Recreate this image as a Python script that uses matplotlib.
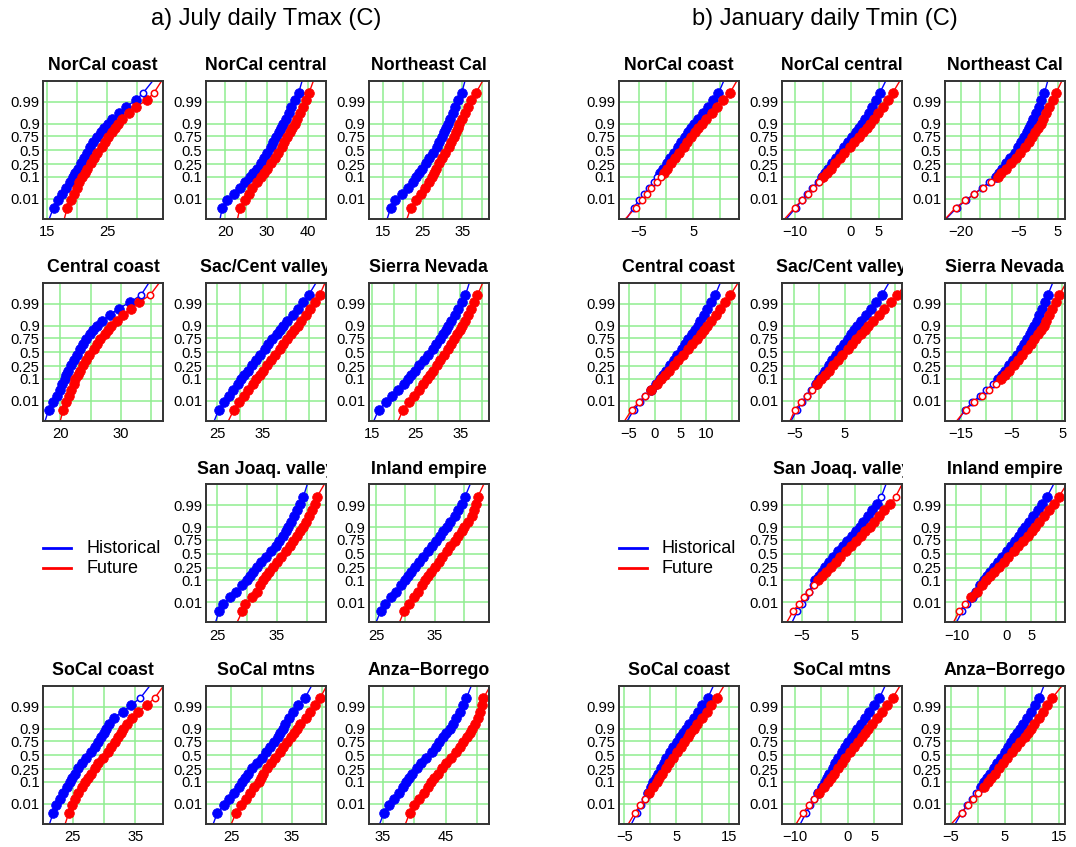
import matplotlib
matplotlib.use("Agg")
import matplotlib.pyplot as plt
import numpy as np
from statistics import NormalDist
from matplotlib.transforms import Bbox, TransformedBbox, offset_copy
from matplotlib.lines import Line2D

plt.rcParams['font.family'] = ['Liberation Sans', 'DejaVu Sans']

# ---------------- data ----------------
PROB_TICKS = [0.01, 0.1, 0.25, 0.5, 0.75, 0.9, 0.99]
PROB_LABELS = ["0.01", "0.1", "0.25", "0.5", "0.75", "0.9", "0.99"]
# probability of each plotted quantile (first / last = line end only)
PROBS = [0.0005, 0.003, 0.008, 0.018, 0.035, 0.065, 0.10, 0.14, 0.19, 0.264, 0.35,
         0.44, 0.56, 0.65, 0.736, 0.81, 0.86, 0.90, 0.935, 0.965, 0.982, 0.992,
         0.997, 0.9995]

# July daily Tmax (C)
JUL_NORCAL_COAST_HIST = [15.4, 16.1, 16.8, 17.5, 18.2, 18.8, 19.3, 19.7, 20.1, 20.6, 21.1, 21.6, 22.2, 22.7, 23.3, 24.0, 24.5, 25.1, 25.9, 27.0, 28.2, 29.8, 31.0, 32.5]
JUL_NORCAL_COAST_FUT = [17.9, 18.4, 19.0, 19.5, 20.0, 20.4, 20.8, 21.3, 21.7, 22.3, 22.8, 23.3, 24.1, 24.6, 25.2, 25.8, 26.3, 26.8, 27.5, 28.6, 29.9, 31.6, 32.8, 34.0]
JUL_NORCAL_CENTRAL_HIST = [18.8, 19.3, 20.5, 22.2, 23.5, 24.8, 25.9, 26.8, 27.6, 28.6, 29.4, 30.2, 31.0, 31.6, 32.3, 33.0, 33.5, 34.0, 34.6, 35.4, 36.0, 36.8, 37.7, 38.5]
JUL_NORCAL_CENTRAL_FUT = [23.0, 23.6, 24.7, 25.7, 26.6, 27.7, 28.6, 29.4, 30.1, 31.1, 32.0, 32.8, 33.7, 34.3, 35.0, 35.7, 36.2, 36.8, 37.4, 38.1, 38.7, 39.4, 40.2, 41.2]
JUL_NORTHEAST_HIST = [16.0, 16.9, 18.0, 19.8, 21.2, 22.5, 23.4, 24.1, 24.8, 25.8, 26.6, 27.6, 28.6, 29.2, 29.8, 30.4, 30.9, 31.3, 31.9, 32.6, 33.2, 34.0, 34.8, 35.6]
JUL_NORTHEAST_FUT = [21.0, 22.0, 23.2, 24.6, 25.6, 26.6, 27.2, 27.8, 28.4, 29.2, 29.9, 30.7, 31.6, 32.2, 32.8, 33.4, 33.8, 34.2, 34.8, 35.6, 36.3, 37.3, 38.4, 40.0]
JUL_CENTRAL_COAST_HIST = [17.5, 18.1, 18.8, 19.4, 19.9, 20.3, 20.7, 21.0, 21.3, 21.8, 22.2, 22.7, 23.3, 23.8, 24.3, 24.9, 25.4, 26.0, 26.9, 28.2, 29.6, 31.5, 33.3, 34.5]
JUL_CENTRAL_COAST_FUT = [20.0, 20.5, 21.0, 21.4, 21.8, 22.2, 22.5, 22.9, 23.3, 23.8, 24.3, 24.8, 25.5, 26.0, 26.6, 27.3, 27.8, 28.4, 29.3, 30.4, 31.6, 33.0, 34.8, 36.2]
JUL_SAC_HIST = [24.4, 25.4, 26.6, 27.6, 28.6, 29.6, 30.3, 31.0, 31.7, 32.6, 33.5, 34.3, 35.4, 36.2, 37.1, 38.0, 38.8, 39.5, 40.4, 41.5, 42.6, 43.8, 45.0, 46.5]
JUL_SAC_FUT = [27.5, 28.7, 29.8, 30.8, 31.8, 32.8, 33.6, 34.3, 35.0, 35.9, 36.8, 37.6, 38.7, 39.4, 40.3, 41.2, 41.9, 42.6, 43.4, 44.4, 45.4, 46.4, 47.4, 48.5]
JUL_SIERRA_HIST = [15.5, 16.6, 18.2, 19.7, 21.0, 22.2, 23.2, 24.0, 24.8, 25.8, 26.8, 27.7, 28.8, 29.5, 30.4, 31.1, 31.7, 32.3, 33.0, 33.8, 34.6, 35.4, 36.2, 37.0]
JUL_SIERRA_FUT = [21.0, 22.1, 23.4, 24.6, 25.6, 26.6, 27.4, 28.1, 28.8, 29.7, 30.5, 31.3, 32.2, 32.9, 33.6, 34.3, 34.9, 35.4, 36.0, 36.8, 37.5, 38.2, 38.9, 40.0]
JUL_SANJOAQ_HIST = [24.7, 25.3, 26.0, 27.1, 28.2, 29.1, 29.9, 30.4, 30.9, 31.6, 32.3, 33.1, 34.0, 34.8, 35.4, 36.0, 36.5, 36.9, 37.4, 37.8, 38.3, 38.8, 39.4, 40.0]
JUL_SANJOAQ_FUT = [28.3, 29.2, 29.7, 30.8, 31.6, 32.2, 32.7, 33.2, 33.7, 34.3, 35.0, 35.7, 36.5, 37.1, 37.7, 38.4, 38.8, 39.3, 39.9, 40.4, 40.9, 41.3, 41.7, 42.8]
JUL_INLAND_HIST = [25.0, 25.8, 26.6, 27.6, 28.4, 29.3, 29.9, 30.5, 31.0, 31.7, 32.4, 33.0, 33.8, 34.5, 35.2, 35.9, 36.5, 37.1, 37.7, 38.4, 39.0, 39.6, 40.2, 41.0]
JUL_INLAND_FUT = [29.0, 29.8, 30.6, 31.4, 32.1, 32.8, 33.4, 33.9, 34.4, 35.0, 35.7, 36.3, 37.1, 37.7, 38.4, 39.0, 39.6, 40.1, 40.7, 41.3, 41.7, 42.1, 42.4, 43.3]
JUL_SOCAL_COAST_HIST = [21.3, 21.9, 22.4, 23.0, 23.5, 24.1, 24.5, 24.9, 25.3, 25.9, 26.5, 27.1, 27.9, 28.5, 29.1, 29.6, 30.0, 30.4, 30.8, 31.6, 33.0, 34.3, 35.8, 37.2]
JUL_SOCAL_COAST_FUT = [23.8, 24.4, 24.9, 25.4, 25.9, 26.5, 27.0, 27.4, 27.9, 28.5, 29.1, 29.8, 30.6, 31.2, 31.7, 32.3, 32.7, 33.1, 33.7, 34.5, 35.5, 36.8, 38.1, 39.4]
JUL_SOCAL_MTNS_HIST = [22.0, 22.7, 23.7, 24.6, 25.5, 26.2, 26.8, 27.3, 27.8, 28.5, 29.2, 30.0, 30.8, 31.4, 32.1, 32.7, 33.1, 33.5, 33.9, 34.5, 35.2, 36.0, 37.2, 38.2]
JUL_SOCAL_MTNS_FUT = [25.0, 25.8, 26.6, 27.4, 28.1, 28.8, 29.5, 29.9, 30.3, 30.9, 31.5, 32.2, 33.0, 33.6, 34.2, 34.9, 35.3, 35.8, 36.4, 37.3, 38.0, 38.8, 39.7, 40.7]
JUL_ANZA_HIST = [34.5, 35.2, 36.0, 36.8, 37.5, 38.2, 38.7, 39.2, 39.7, 40.4, 41.1, 41.9, 42.8, 43.4, 44.0, 44.6, 45.1, 45.6, 46.1, 46.7, 47.3, 47.8, 48.3, 49.0]
JUL_ANZA_FUT = [38.6, 39.3, 40.0, 40.8, 41.5, 42.2, 42.7, 43.2, 43.7, 44.4, 45.1, 45.8, 46.6, 47.2, 47.8, 48.4, 48.8, 49.2, 49.7, 50.1, 50.4, 50.7, 51.0, 52.0]

# January daily Tmin (C)
JAN_NORCAL_COAST_HIST = [-7.3, -6.0, -5.0, -4.1, -3.2, -2.3, -1.6, -1.1, -0.5, 0.1, 0.8, 1.4, 2.2, 2.8, 3.5, 4.1, 4.7, 5.2, 5.9, 6.8, 7.7, 8.7, 9.7, 10.6]
JAN_NORCAL_COAST_FUT = [-7.5, -5.6, -4.5, -3.6, -2.7, -1.7, -1.0, -0.4, 0.2, 1.0, 1.7, 2.4, 3.3, 3.9, 4.7, 5.4, 6.0, 6.6, 7.4, 8.5, 9.5, 10.6, 11.8, 13.0]
JAN_NORCAL_CENTRAL_HIST = [-11.5, -9.8, -8.7, -7.8, -6.9, -5.9, -5.2, -4.6, -4.1, -3.4, -2.7, -2.0, -1.2, -0.5, 0.2, 0.9, 1.4, 2.0, 2.5, 3.2, 3.8, 4.5, 5.2, 6.2]
JAN_NORCAL_CENTRAL_FUT = [-11.8, -10.0, -8.8, -7.7, -6.7, -5.7, -4.9, -4.2, -3.6, -2.8, -1.9, -1.2, -0.2, 0.6, 1.5, 2.2, 2.9, 3.5, 4.1, 4.9, 5.7, 6.6, 7.5, 8.7]
JAN_NORTHEAST_HIST = [-23.8, -21.0, -18.7, -16.6, -14.6, -12.6, -11.0, -10.1, -9.3, -8.2, -7.2, -6.1, -5.1, -4.4, -3.7, -3.0, -2.4, -1.8, -1.3, -0.6, 0.1, 0.8, 1.6, 2.4]
JAN_NORTHEAST_FUT = [-24.0, -21.3, -18.8, -16.5, -14.4, -12.2, -10.5, -9.5, -8.4, -7.1, -5.8, -4.6, -3.3, -2.5, -1.6, -0.8, -0.1, 0.6, 1.2, 2.0, 2.8, 3.7, 4.6, 6.0]
JAN_CENTRAL_COAST_HIST = [-5.3, -4.0, -2.8, -1.8, -0.8, 0.2, 1.0, 1.6, 2.2, 3.0, 3.7, 4.4, 5.2, 5.9, 6.5, 7.2, 7.8, 8.3, 8.8, 9.5, 10.2, 10.9, 11.7, 12.6]
JAN_CENTRAL_COAST_FUT = [-5.8, -4.4, -3.1, -1.9, -0.8, 0.4, 1.3, 2.0, 2.8, 3.7, 4.6, 5.5, 6.5, 7.3, 8.1, 8.9, 9.5, 10.2, 10.9, 11.8, 12.7, 13.6, 14.6, 16.0]
JAN_SAC_HIST = [-5.6, -4.4, -3.4, -2.5, -1.6, -0.7, 0.0, 0.6, 1.1, 1.9, 2.5, 3.2, 4.1, 4.8, 5.6, 6.3, 6.9, 7.5, 8.2, 9.2, 10.2, 11.2, 12.3, 13.6]
JAN_SAC_FUT = [-5.8, -4.8, -3.6, -2.5, -1.5, -0.5, 0.3, 1.0, 1.8, 2.7, 3.6, 4.5, 5.6, 6.4, 7.3, 8.2, 8.9, 9.6, 10.5, 11.7, 12.8, 14.1, 15.4, 17.0]
JAN_SIERRA_HIST = [-15.5, -14.2, -12.7, -11.3, -10.0, -8.6, -7.6, -6.9, -6.3, -5.5, -4.7, -3.9, -3.1, -2.5, -2.0, -1.4, -1.0, -0.5, -0.1, 0.4, 0.9, 1.5, 2.1, 3.0]
JAN_SIERRA_FUT = [-15.8, -14.0, -12.4, -10.9, -9.5, -8.1, -7.0, -6.3, -5.5, -4.6, -3.7, -2.9, -1.9, -1.2, -0.6, 0.2, 0.7, 1.3, 1.8, 2.4, 3.0, 3.7, 4.4, 5.6]
JAN_SANJOAQ_HIST = [-6.8, -5.8, -5.0, -4.3, -3.6, -2.9, -2.4, -1.8, -1.2, -0.6, 0.2, 0.9, 1.9, 2.7, 3.6, 4.5, 5.2, 5.9, 6.5, 7.4, 8.2, 9.1, 10.0, 10.8]
JAN_SANJOAQ_FUT = [-7.8, -6.6, -5.5, -4.5, -3.6, -2.6, -1.9, -1.2, -0.4, 0.5, 1.4, 2.3, 3.4, 4.3, 5.3, 6.2, 7.0, 7.8, 8.6, 9.6, 10.5, 11.6, 12.7, 13.8]
JAN_INLAND_HIST = [-10.0, -8.8, -7.8, -6.9, -6.1, -5.2, -4.5, -3.9, -3.2, -2.5, -1.6, -0.9, 0.1, 0.9, 1.7, 2.5, 3.1, 3.8, 4.5, 5.4, 6.3, 7.2, 8.2, 9.4]
JAN_INLAND_FUT = [-10.6, -9.4, -8.2, -7.0, -5.9, -4.8, -4.0, -3.2, -2.4, -1.5, -0.5, 0.4, 1.6, 2.4, 3.4, 4.3, 5.1, 5.8, 6.6, 7.5, 8.5, 9.5, 10.6, 12.0]
JAN_SOCAL_COAST_HIST = [-3.6, -2.5, -1.8, -1.1, -0.5, 0.1, 0.6, 1.0, 1.5, 2.0, 2.6, 3.1, 3.8, 4.4, 5.1, 5.7, 6.3, 6.8, 7.5, 8.3, 9.1, 10.0, 11.0, 12.0]
JAN_SOCAL_COAST_FUT = [-4.2, -2.9, -2.0, -1.1, -0.3, 0.6, 1.2, 1.7, 2.3, 3.0, 3.6, 4.3, 5.1, 5.8, 6.5, 7.2, 7.7, 8.3, 9.0, 9.9, 10.8, 11.7, 12.7, 14.0]
JAN_SOCAL_MTNS_HIST = [-9.0, -7.9, -7.1, -6.4, -5.7, -4.9, -4.4, -3.9, -3.5, -2.9, -2.4, -1.9, -1.1, -0.5, 0.1, 0.8, 1.3, 1.8, 2.5, 3.3, 4.1, 5.0, 6.0, 7.0]
JAN_SOCAL_MTNS_FUT = [-9.8, -8.5, -7.4, -6.4, -5.5, -4.5, -3.8, -3.2, -2.6, -1.9, -1.1, -0.5, 0.5, 1.2, 2.0, 2.7, 3.3, 3.9, 4.6, 5.6, 6.5, 7.4, 8.5, 9.8]
JAN_ANZA_HIST = [-4.2, -3.0, -2.0, -1.1, -0.3, 0.5, 1.2, 1.7, 2.3, 3.0, 3.6, 4.3, 5.1, 5.6, 6.2, 6.8, 7.3, 7.8, 8.4, 9.1, 9.8, 10.6, 11.4, 12.2]
JAN_ANZA_FUT = [-4.9, -3.0, -1.9, -0.9, 0.1, 1.1, 1.8, 2.4, 3.1, 3.9, 4.7, 5.5, 6.4, 7.1, 7.9, 8.7, 9.3, 9.9, 10.5, 11.3, 12.1, 12.9, 13.8, 15.5]

REGIONS = ["NorCal coast", "NorCal central", "Northeast Cal", "Central coast",
           "Sac/Cent valley", "Sierra Nevada", "San Joaq. valley", "Inland empire",
           "SoCal coast", "SoCal mtns", "Anza\u2212Borrego"]
SERIES_NAMES = ["Historical", "Future"]
HALF_TITLES = ["a) July daily Tmax (C)", "b) January daily Tmin (C)"]

# per panel: (title, hist, fut, xlim, grid ticks, labelled ticks, open-low count, open-high count)
JULY = [
    (REGIONS[0], JUL_NORCAL_COAST_HIST, JUL_NORCAL_COAST_FUT, (14.4, 34.3), [15, 20, 25, 30], [15, 25], 0, 1),
    (REGIONS[1], JUL_NORCAL_CENTRAL_HIST, JUL_NORCAL_CENTRAL_FUT, (15.4, 44.2), [20, 25, 30, 35, 40], [20, 30, 40], 0, 0),
    (REGIONS[2], JUL_NORTHEAST_HIST, JUL_NORTHEAST_FUT, (11.4, 41.6), [15, 20, 25, 30, 35, 40], [15, 25, 35], 0, 0),
    (REGIONS[3], JUL_CENTRAL_COAST_HIST, JUL_CENTRAL_COAST_FUT, (17.2, 36.9), [20, 25, 30, 35], [20, 30], 0, 1),
    (REGIONS[4], JUL_SAC_HIST, JUL_SAC_FUT, (22.6, 48.7), [25, 30, 35, 40, 45], [25, 35], 0, 0),
    (REGIONS[5], JUL_SIERRA_HIST, JUL_SIERRA_FUT, (14.4, 41.4), [15, 20, 25, 30, 35, 40], [15, 25, 35], 0, 0),
    None,
    (REGIONS[6], JUL_SANJOAQ_HIST, JUL_SANJOAQ_FUT, (23.1, 43.1), [25, 30, 35, 40], [25, 35], 0, 0),
    (REGIONS[7], JUL_INLAND_HIST, JUL_INLAND_FUT, (23.8, 44.2), [25, 30, 35, 40], [25, 35], 0, 0),
    (REGIONS[8], JUL_SOCAL_COAST_HIST, JUL_SOCAL_COAST_FUT, (20.3, 39.4), [25, 30, 35], [25, 35], 0, 1),
    (REGIONS[9], JUL_SOCAL_MTNS_HIST, JUL_SOCAL_MTNS_FUT, (20.8, 40.6), [25, 30, 35, 40], [25, 35], 0, 0),
    (REGIONS[10], JUL_ANZA_HIST, JUL_ANZA_FUT, (32.8, 51.8), [35, 40, 45, 50], [35, 45], 0, 0),
]
JANUARY = [
    (REGIONS[0], JAN_NORCAL_COAST_HIST, JAN_NORCAL_COAST_FUT, (-8.7, 13.4), [-5, 0, 5, 10], [-5, 5], 6, 0),
    (REGIONS[1], JAN_NORCAL_CENTRAL_HIST, JAN_NORCAL_CENTRAL_FUT, (-12.3, 9.1), [-10, -5, 0, 5], [-10, 0, 5], 5, 0),
    (REGIONS[2], JAN_NORTHEAST_HIST, JAN_NORTHEAST_FUT, (-24.1, 6.8), [-20, -15, -10, -5, 0, 5], [-20, -5, 5], 5, 0),
    (REGIONS[3], JAN_CENTRAL_COAST_HIST, JAN_CENTRAL_COAST_FUT, (-6.9, 16.2), [-5, 0, 5, 10, 15], [-5, 0, 5, 10], 3, 0),
    (REGIONS[4], JAN_SAC_HIST, JAN_SAC_FUT, (-7.4, 16.2), [-5, 0, 5, 10, 15], [-5, 5], 4, 0),
    (REGIONS[5], JAN_SIERRA_HIST, JAN_SIERRA_FUT, (-18.1, 5.4), [-15, -10, -5, 0, 5], [-15, -5, 5], 5, 0),
    None,
    (REGIONS[6], JAN_SANJOAQ_HIST, JAN_SANJOAQ_FUT, (-8.7, 13.8), [-5, 0, 5, 10], [-5, 5], 5, 1),
    (REGIONS[7], JAN_INLAND_HIST, JAN_INLAND_FUT, (-12.3, 11.7), [-10, -5, 0, 5, 10], [-10, 0, 5], 2, 0),
    (REGIONS[8], JAN_SOCAL_COAST_HIST, JAN_SOCAL_COAST_FUT, (-6.0, 16.9), [-5, 0, 5, 10, 15], [-5, 5, 15], 3, 0),
    (REGIONS[9], JAN_SOCAL_MTNS_HIST, JAN_SOCAL_MTNS_FUT, (-12.5, 10.2), [-10, -5, 0, 5], [-10, 0, 5], 3, 0),
    (REGIONS[10], JAN_ANZA_HIST, JAN_ANZA_FUT, (-6.1, 16.1), [-5, 0, 5, 10, 15], [-5, 5, 15], 4, 0),
]

# ---------------- layout / style ----------------
W, H = 1076, 847
PW, PH = 119.5, 137.8
COL_LEFT = [[43.3, 206.0, 369.0], [619.0, 782.0, 945.0]]
ROW_TOP = [81.0, 283.0, 484.5, 686.0]
HIST_C, FUT_C = "#0000FF", "#FF0000"
GRID_C = "#90EE90"

fig = plt.figure(figsize=(W / 100, H / 100), dpi=100)
_nd = NormalDist()


def _ppf(p):
    if not np.isfinite(p):
        return np.nan
    return _nd.inv_cdf(min(max(p, 1e-12), 1 - 1e-12))


def _cdf(z):
    if not np.isfinite(z):
        return np.nan
    return _nd.cdf(z)


fwd = np.vectorize(_ppf, otypes=[float])
inv = np.vectorize(_cdf, otypes=[float])


def fmt(v):
    s = "%g" % v
    return s.replace("-", "\u2212")


def fig_bbox(x0, y0, x1, y1):
    # pixel coords with origin at top-left -> figure-fraction bbox
    return TransformedBbox(Bbox.from_extents(x0 / W, 1 - y1 / H, x1 / W, 1 - y0 / H),
                           fig.transFigure)


def panel(left, top, spec):
    title, hist, fut, xlim, ticks, labelled, n_lo, n_hi = spec
    assert len(hist) == len(PROBS) and len(fut) == len(PROBS), title
    ax = fig.add_axes([left / W, 1 - (top + PH) / H, PW / W, PH / H])
    ax.set_yscale("function", functions=(fwd, inv))
    ax.set_ylim(_cdf(-3.29), _cdf(3.33))
    ax.set_xlim(*xlim)
    ax.set_yticks(PROB_TICKS)
    ax.set_yticklabels(PROB_LABELS)
    ax.set_xticks(ticks)
    ax.set_xticklabels([fmt(t) if t in labelled else "" for t in ticks])
    ax.minorticks_off()
    ax.grid(True, color=GRID_C, lw=1.1)
    ax.set_axisbelow(True)
    ax.tick_params(axis="both", length=0, labelsize=10.6, colors="black")
    ax.tick_params(axis="y", pad=2.6)
    ax.tick_params(axis="x", pad=4.6)
    for sp in ax.spines.values():
        sp.set_color("#333333")
        sp.set_linewidth(1.4)
        sp.set_zorder(6)
    n = len(PROBS) - 2
    for vals, col in ((hist, HIST_C), (fut, FUT_C)):
        ax.plot(vals, PROBS, color=col, lw=1.0, zorder=3)
        dots_x = vals[1:-1]
        dots_p = PROBS[1:-1]
        fx = [dots_x[i] for i in range(n_lo, n - n_hi)]
        fp = [dots_p[i] for i in range(n_lo, n - n_hi)]
        ox = [dots_x[i] for i in range(n) if i < n_lo or i >= n - n_hi]
        op = [dots_p[i] for i in range(n) if i < n_lo or i >= n - n_hi]
        ax.plot(fx, fp, "o", ms=7.0, color=col, mec=col, mew=0.5, zorder=4)
        if ox:
            ax.plot(ox, op, "o", ms=4.6, mfc="white", mec=col, mew=1.1, zorder=5)
    # panel title (clipped to the panel's figure region like R does)
    t = ax.text(0.5, 1.0, title, transform=offset_copy(ax.transAxes, fig=fig, y=11, units="dots"),
                ha="center", va="baseline", fontsize=12.8, fontweight="bold")
    t.set_clip_on(True)
    t.set_clip_box(fig_bbox(left - 40, top - 40, left + PW + 1.5, top))
    # clip x tick labels at the right edge of the figure region
    for tk in ax.xaxis.get_major_ticks():
        tk.label1.set_clip_on(True)
        tk.label1.set_clip_box(fig_bbox(left - 30, top + PH, left + PW + 2, top + PH + 40))
    return ax


for h, panels in enumerate((JULY, JANUARY)):
    for k, spec in enumerate(panels):
        if spec is None:
            continue
        r, c = divmod(k, 3)
        panel(COL_LEFT[h][c], ROW_TOP[r], spec)

# half titles
fig.text(266 / W, 1 - 19 / H, HALF_TITLES[0], ha="center", va="center", fontsize=17)
fig.text(825 / W, 1 - 19 / H, HALF_TITLES[1], ha="center", va="center", fontsize=17)

# legends
for lx0, tx in ((43.3, 86.0), (619.3, 661.7)):
    for name, col, ly in ((SERIES_NAMES[0], HIST_C, 548.3), (SERIES_NAMES[1], FUT_C, 568.3)):
        fig.add_artist(Line2D([lx0 / W, (lx0 + 27.4) / W], [1 - ly / H, 1 - ly / H],
                              color=col, lw=2.0, transform=fig.transFigure))
        fig.text(tx / W, 1 - ly / H, name, ha="left", va="center", fontsize=13)

fig.savefig("out.png", dpi=100, facecolor="white")
